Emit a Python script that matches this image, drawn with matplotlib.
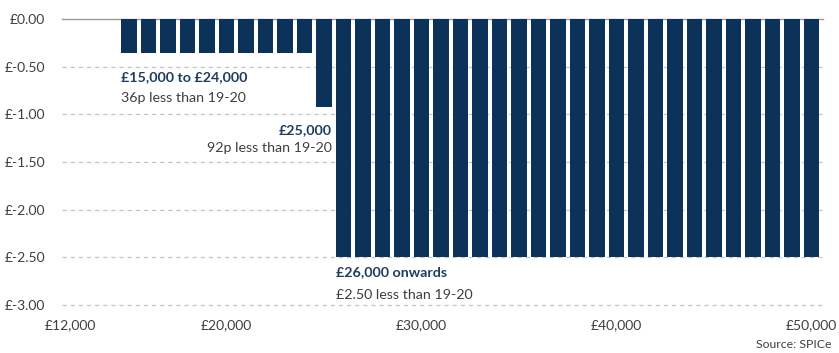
import matplotlib
matplotlib.use("Agg")
import matplotlib.pyplot as plt
from matplotlib.ticker import FuncFormatter

plt.rcParams['font.family'] = ['Lato', 'DejaVu Sans']

# Data
incomes = [15000, 16000, 17000, 18000, 19000, 20000, 21000, 22000, 23000, 24000,
           25000, 26000, 27000, 28000, 29000, 30000, 31000, 32000, 33000, 34000,
           35000, 36000, 37000, 38000, 39000, 40000, 41000, 42000, 43000, 44000,
           45000, 46000, 47000, 48000, 49000, 50000]
change = [-0.36, -0.36, -0.36, -0.36, -0.36, -0.36, -0.36, -0.36, -0.36, -0.36,
          -0.92, -2.50, -2.50, -2.50, -2.50, -2.50, -2.50, -2.50, -2.50, -2.50,
          -2.50, -2.50, -2.50, -2.50, -2.50, -2.50, -2.50, -2.50, -2.50, -2.50,
          -2.50, -2.50, -2.50, -2.50, -2.50, -2.50]
x_ticks = [12000, 20000, 30000, 40000, 50000]
y_ticks = [0.0, -0.5, -1.0, -1.5, -2.0, -2.5, -3.0]

navy = '#0c3259'
text_navy = '#1d3d62'
grey_text = '#3f3f3f'

W, H = 839, 353
fig = plt.figure(figsize=(W / 100, H / 100), dpi=100)
ax = fig.add_axes([62 / W, 1 - 305 / H, (823 - 62) / W, (305 - 19) / H])

bar_w = 790
ax.bar(incomes, change, width=bar_w, color=navy, zorder=3)

ax.set_xlim(11560, 50600)
ax.set_ylim(-3.0, 0.0)

for y in y_ticks:
    if y == 0:
        ax.axhline(y, color='#9a9a9a', lw=1.0, zorder=2, clip_on=False)
    else:
        ax.axhline(y, color='#c4c4c4', lw=0.9, ls=(0, (3.5, 3)), zorder=1, clip_on=False)

ax.set_xticks(x_ticks)
ax.set_yticks(y_ticks)
ax.xaxis.set_major_formatter(FuncFormatter(lambda v, p: f"£{int(v):,}"))
ax.yaxis.set_major_formatter(FuncFormatter(lambda v, p: f"£{v:.2f}" if v == 0 else f"£-{abs(v):.2f}"))
ax.tick_params(axis='both', length=0, labelsize=10, labelcolor=grey_text)
ax.tick_params(axis='y', pad=12)
ax.tick_params(axis='x', pad=10)
for s in ax.spines.values():
    s.set_visible(False)

fs = 10.3
# Annotations
ax.text(15000 - bar_w / 2, -0.61, "£15,000 to £24,000", fontsize=fs, fontweight='bold',
        color=text_navy, ha='left', va='center')
ax.text(15000 - bar_w / 2, -0.83, "36p less than 19-20", fontsize=fs,
        color=grey_text, ha='left', va='center')
ax.text(25000 + bar_w / 2, -1.165, "£25,000", fontsize=fs, fontweight='bold',
        color=text_navy, ha='right', va='center')
ax.text(25000 + bar_w / 2, -1.35, "92p less than 19-20", fontsize=fs,
        color=grey_text, ha='right', va='center')
ax.text(26000 - bar_w / 2, -2.65, "£26,000 onwards", fontsize=fs, fontweight='bold',
        color=text_navy, ha='left', va='center')
ax.text(26000 - bar_w / 2, -2.89, "£2.50 less than 19-20", fontsize=fs,
        color=grey_text, ha='left', va='center')

fig.text(832 / W, 1 - 345 / H, "Source: SPICe", fontsize=8.8, color=grey_text,
         ha='right', va='center')

fig.savefig("out.png", dpi=100, facecolor='white')
